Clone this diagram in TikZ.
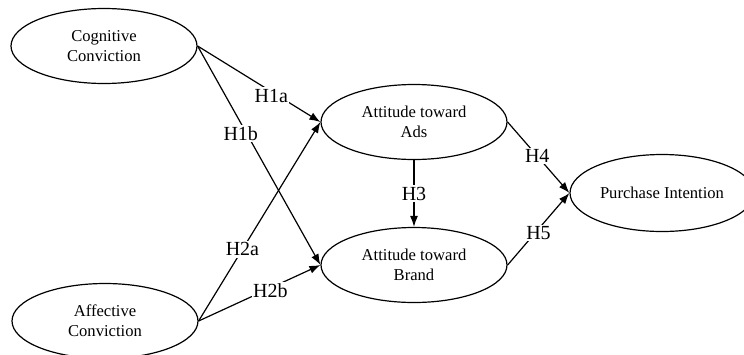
\documentclass[tikz,border=0pt]{standalone}
\usepackage{fontspec}
\setmainfont{Liberation Serif}
\usetikzlibrary{shapes.geometric,arrows.meta}
\begin{document}
\begin{tikzpicture}[x=1pt,y=-1pt,
  construct/.style={draw,ellipse,line width=1.2pt,minimum width=186pt,minimum height=75pt,inner sep=0pt,align=center,font=\fontsize{16.6}{20}\selectfont},
  link/.style={line width=1.2pt,-{Latex[length=11pt,width=8pt]}},
  hyp/.style={fill=white,inner sep=1.5pt,font=\fontsize{20}{22}\selectfont}]
\useasboundingbox (0,0) rectangle (744,354);
\node[construct] (cog) at (104,46) {Cognitive\\Conviction};
\node[construct] (aff) at (105,321) {Affective\\Conviction};
\node[construct] (ads) at (414,122) {Attitude toward\\Ads};
\node[construct] (brand) at (414,265) {Attitude toward\\Brand};
\node[construct,minimum width=184pt,minimum height=77pt] (pi) at (662,193) {Purchase Intention};
\draw[link] (cog.east) -- node[hyp,pos=0.6,yshift=-4pt] {H1a} (ads.west);
\draw[link] (cog.east) -- node[hyp,pos=0.4,xshift=-6pt] {H1b} (brand.west);
\draw[link] (aff.east) -- node[hyp,pos=0.36] {H2a} (ads.west);
\draw[link] (aff.east) -- node[hyp,pos=0.59,yshift=-3pt] {H2b} (brand.west);
\draw[link] (ads.south) -- node[hyp,pos=0.5] {H3} (brand.north);
\draw[link] (ads.east) -- node[hyp,pos=0.48] {H4} (pi.west);
\draw[link] (brand.east) -- node[hyp,pos=0.5,yshift=-4pt] {H5} (pi.west);
\end{tikzpicture}
\end{document}
